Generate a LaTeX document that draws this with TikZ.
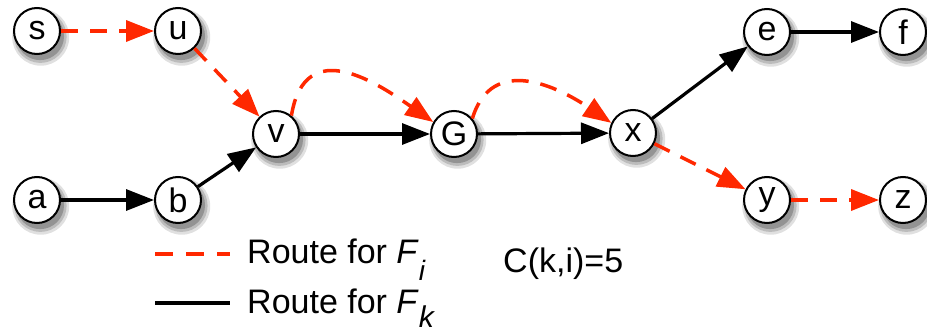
\documentclass[tikz,border=0pt]{standalone}
\usepackage{fontspec}
\setmainfont{Liberation Sans}
\usetikzlibrary{arrows.meta,shadows}
\definecolor{routered}{RGB}{255,40,0}
\tikzset{
  vtx/.style={circle,draw=black,line width=2pt,fill=white,minimum size=46pt,inner sep=0pt,
    font=\fontsize{34}{40}\selectfont,
    drop shadow={shadow xshift=3pt,shadow yshift=-5pt,opacity=0.12,shadow scale=1.24,fill=black},
    drop shadow={shadow xshift=3pt,shadow yshift=-5pt,opacity=0.16,shadow scale=1.14,fill=black},
    drop shadow={shadow xshift=3pt,shadow yshift=-5pt,opacity=0.22,shadow scale=1.04,fill=black}},
  redroute/.style={draw=routered,line width=3.5pt,dash pattern=on 17pt off 12pt,
    -{Triangle[length=28pt,width=21pt,fill=routered]}},
  blackroute/.style={draw=black,line width=3.2pt,-{Triangle[length=28pt,width=21pt]}},
  legtext/.style={anchor=base west,inner sep=0pt,font=\fontsize{34}{40}\selectfont}
}
\begin{document}
\begin{tikzpicture}[x=1pt,y=1pt]
\useasboundingbox (0,0) rectangle (927,333);
\node[vtx] (s) at (37,302) {s};
\node[vtx] (u) at (178,302) {u};
\node[vtx] (v) at (276,199) {v};
\node[vtx] (G) at (454,199) {G};
\node[vtx] (x) at (633,200) {x};
\node[vtx] (e) at (767,301) {e};
\node[vtx] (f) at (903,301) {f};
\node[vtx] (a) at (37,133) {a};
\node[vtx] (b) at (178,133) {b};
\node[vtx] (y) at (767,133) {y};
\node[vtx] (z) at (903,133) {z};
% black route
\draw[blackroute] (a) -- (b);
\draw[blackroute] (b) -- (v);
\draw[blackroute] (v) -- (G);
\draw[blackroute] (G) -- (x);
\draw[blackroute] (x) -- (e);
\draw[blackroute] (e) -- (f);
% red route
\draw[redroute] (s) -- (u);
\draw[redroute] (u) -- (v);
\draw[redroute] (v.50) .. controls (305,300) and (380,248) .. (G.150);
\draw[redroute] (G.40) .. controls (492,280) and (560,245) .. (x.155);
\draw[redroute] (x) -- (y);
\draw[redroute] (y) -- (z);
% legend
\coordinate (l1a) at (155,79);
\coordinate (l1b) at (230,79);
\coordinate (l2a) at (155,30);
\coordinate (l2b) at (230,30);
\draw[draw=routered,line width=4pt,dash pattern=on 18pt off 13pt] (l1a) -- (l1b);
\draw[draw=black,line width=3.5pt] (l2a) -- (l2b);
\node[legtext] (t1) at (247,70) {Route for \textit{F}\raisebox{-17pt}{\fontsize{28}{30}\selectfont\textit{i}}};
\node[legtext] (t2) at (247,20) {Route for \textit{F}\raisebox{-14pt}{\fontsize{30}{32}\selectfont\textit{k}}};
\node[legtext] (t3) at (503,61) {C(k,i)=5};
\end{tikzpicture}
\end{document}
